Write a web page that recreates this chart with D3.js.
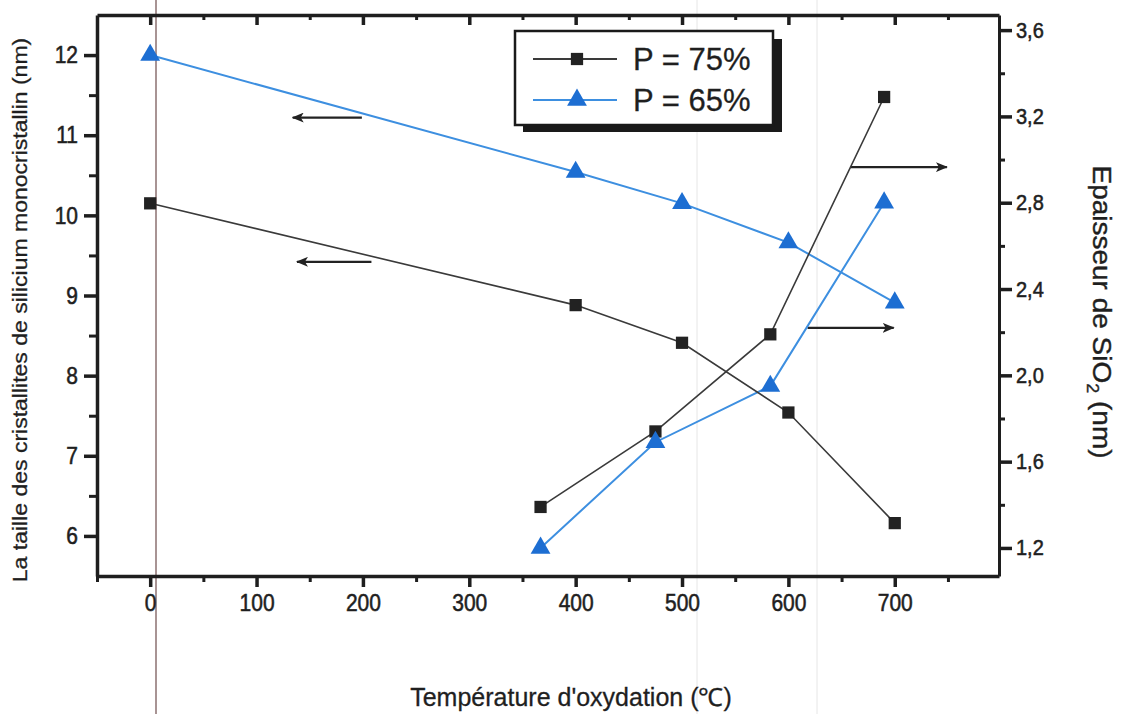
<!DOCTYPE html>
<html><head><meta charset="utf-8">
<script src="https://cdn.jsdelivr.net/npm/d3@7"></script>
<style>
html,body{margin:0;padding:0;background:#fff;}
svg{display:block;}
text{font-family:"Liberation Sans",Arial,Helvetica,sans-serif;fill:#1f1f1f;}
</style></head>
<body>
<svg id="chart" width="1130" height="714"></svg>
<script>
// ---- data ----
const tempLeft = [0, 400, 500, 600, 700];
const size75 = [10.15, 8.88, 8.41, 7.54, 6.16];
const size65 = [12.0, 10.54, 10.15, 9.66, 8.91];
const tempRight = [367, 475, 583, 690];
const oxide75 = [1.39, 1.74, 2.19, 3.29];
const oxide65 = [1.20, 1.69, 1.95, 2.80];
const xTickValues = [0, 100, 200, 300, 400, 500, 600, 700];
const xMinorTicks = [-50, 50, 150, 250, 350, 450, 550, 650, 750];
const leftTickValues = [6, 7, 8, 9, 10, 11, 12];
const leftMinorTicks = [6.5, 7.5, 8.5, 9.5, 10.5, 11.5];
const rightTickValues = [1.2, 1.6, 2.0, 2.4, 2.8, 3.2, 3.6];
const rightMinorTicks = [1.4, 1.8, 2.2, 2.6, 3.0, 3.4];
const seriesNames = ["P = 75%", "P = 65%"];
const xTitle = "Température d'oxydation (\u2103)";
const leftTitle = "La taille des cristallites de silicium monocristallin (nm)";
// annotation arrows (data coordinates)
const arrowsLeft = [{x1: 199, x2: 134, y: 11.22}, {x1: 208, x2: 138, y: 9.42}];
const arrowsRight = [{x1: 658, x2: 749, y: 2.965}, {x1: 618, x2: 699, y: 2.22}];

// ---- layout ----
const L = 97, R = 999, T = 15, B = 576;
const svg = d3.select("#chart");
const x = d3.scaleLinear().domain([-50, 798]).range([L, R]);
const yL = d3.scaleLinear().domain([5.5, 12.5]).range([B, T]);
const yR = d3.scaleLinear().domain([1.07, 3.67]).range([B, T]);

const black = "#1e1e1e", lineBlack = "#3a3a3a", blueLine = "#3d8fe0", blueMark = "#1d6ed2";

// scan artifacts (paper fold lines)
svg.append("line").attr("x1",156).attr("x2",156).attr("y1",0).attr("y2",714)
  .attr("stroke","#a89494").attr("stroke-width",2);
[697, 817].forEach(px => svg.append("line").attr("x1",px).attr("x2",px).attr("y1",0).attr("y2",714)
  .attr("stroke","#e6e6e6").attr("stroke-width",1));

function styleAxis(g, w){
  g.select(".domain").attr("stroke", black).attr("stroke-width", w);
  g.selectAll(".tick line").attr("stroke", black).attr("stroke-width", 3.5);
}
function styleLabels(sel, size, k){
  sel.attr("font-size",size).attr("fill","#1f1f1f").attr("stroke","#1f1f1f").attr("stroke-width",0.5)
    .style("font-family","Liberation Sans, Arial");
  if (k) sel.style("transform-box","fill-box").style("transform-origin","center").style("transform",`scaleY(${k})`);
}
function minor(g){ g.select(".domain").remove(); g.selectAll(".tick line").attr("stroke",black).attr("stroke-width",3); }

// bottom axis
const gB = svg.append("g").attr("transform",`translate(0,${B})`)
  .call(d3.axisBottom(x).tickValues(xTickValues).tickSize(11).tickSizeOuter(0).tickPadding(8));
styleAxis(gB, 3.5);
styleLabels(gB.selectAll(".tick text"), 21, 1.15);
svg.append("g").attr("transform",`translate(0,${B})`)
  .call(d3.axisBottom(x).tickValues(xMinorTicks).tickSize(6).tickSizeOuter(0).tickFormat("")).call(minor);

// top axis (inward ticks)
const gT = svg.append("g").attr("transform",`translate(0,${T})`)
  .call(d3.axisBottom(x).tickValues(xTickValues).tickSize(10).tickSizeOuter(0).tickFormat(""));
styleAxis(gT, 3.5);
svg.append("g").attr("transform",`translate(0,${T})`)
  .call(d3.axisBottom(x).tickValues(xMinorTicks.filter(v=>v>-50)).tickSize(5).tickSizeOuter(0).tickFormat("")).call(minor);

// left axis
const gL = svg.append("g").attr("transform",`translate(${L},0)`)
  .call(d3.axisLeft(yL).tickValues(leftTickValues).tickSize(13).tickSizeOuter(0).tickPadding(6).tickFormat(d3.format("d")));
styleAxis(gL, 3.5);
styleLabels(gL.selectAll(".tick text"), 21, 1.15);
svg.append("g").attr("transform",`translate(${L},0)`)
  .call(d3.axisLeft(yL).tickValues(leftMinorTicks).tickSize(8).tickSizeOuter(0).tickFormat("")).call(minor);

// right axis
const commaFmt = v => d3.format(".1f")(v).replace(".", ",");
const gR = svg.append("g").attr("transform",`translate(${R},0)`)
  .call(d3.axisRight(yR).tickValues(rightTickValues).tickSize(13).tickSizeOuter(0).tickPadding(4).tickFormat(commaFmt));
styleAxis(gR, 3);
styleLabels(gR.selectAll(".tick text"), 20, 1.08);
svg.append("g").attr("transform",`translate(${R},0)`)
  .call(d3.axisRight(yR).tickValues(rightMinorTicks).tickSize(6).tickSizeOuter(0).tickFormat("")).call(minor);

// axis titles
svg.append("text").attr("x",571).attr("y",706).attr("text-anchor","middle")
  .attr("font-size",25).attr("stroke","#1f1f1f").attr("stroke-width",0.3).text(xTitle);
svg.append("text").attr("transform","translate(27,310) rotate(-90) scale(1.15,1)")
  .attr("text-anchor","middle").attr("font-size",20).attr("stroke","#1f1f1f").attr("stroke-width",0.3).text(leftTitle);
const rt = svg.append("text").attr("transform","translate(1093,312) rotate(90) scale(1.12,1)")
  .attr("text-anchor","middle").attr("font-size",25).attr("stroke","#1f1f1f").attr("stroke-width",0.4);
rt.append("tspan").text("Epaisseur de SiO");
rt.append("tspan").attr("font-size",16).attr("dy",6).text("2");
rt.append("tspan").attr("dy",-6).text(" (nm)");

// arrow marker
const defs = svg.append("defs");
defs.append("marker").attr("id","ah").attr("viewBox","0 0 12 10").attr("refX",11).attr("refY",5)
  .attr("markerWidth",12).attr("markerHeight",10).attr("markerUnits","userSpaceOnUse").attr("orient","auto")
  .append("path").attr("d","M0,0 L12,5 L0,10 L3,5 Z").attr("fill","#222");

svg.selectAll(".arrL").data(arrowsLeft).join("line")
  .attr("x1",d=>x(d.x1)).attr("x2",d=>x(d.x2)).attr("y1",d=>yL(d.y)).attr("y2",d=>yL(d.y))
  .attr("stroke","#222").attr("stroke-width",2.4).attr("marker-end","url(#ah)");
svg.selectAll(".arrR").data(arrowsRight).join("line")
  .attr("x1",d=>x(d.x1)).attr("x2",d=>x(d.x2)).attr("y1",d=>yR(d.y)).attr("y2",d=>yR(d.y))
  .attr("stroke","#222").attr("stroke-width",2.4).attr("marker-end","url(#ah)");

// series
const lineL = d3.line().x(d=>x(d[0])).y(d=>yL(d[1]));
const lineR = d3.line().x(d=>x(d[0])).y(d=>yR(d[1]));
const s75L = tempLeft.map((t,i)=>[t,size75[i]]);
const s65L = tempLeft.map((t,i)=>[t,size65[i]]);
const s75R = tempRight.map((t,i)=>[t,oxide75[i]]);
const s65R = tempRight.map((t,i)=>[t,oxide65[i]]);

svg.append("path").attr("d",lineL(s65L)).attr("fill","none").attr("stroke",blueLine).attr("stroke-width",2);
svg.append("path").attr("d",lineR(s65R)).attr("fill","none").attr("stroke",blueLine).attr("stroke-width",2);
svg.append("path").attr("d",lineL(s75L)).attr("fill","none").attr("stroke",lineBlack).attr("stroke-width",1.6);
svg.append("path").attr("d",lineR(s75R)).attr("fill","none").attr("stroke",lineBlack).attr("stroke-width",1.6);

const sq = d3.symbol().type(d3.symbolSquare).size(150);
const tri = d3.symbol().type(d3.symbolTriangle).size(170);
function markers(data, sx, sy, sym, fill){
  svg.append("g").selectAll("path").data(data).join("path")
    .attr("transform",d=>`translate(${sx(d[0])},${sy(d[1])})`).attr("d",sym).attr("fill",fill);
}
markers(s75L, x, yL, sq, "#222");
markers(s75R, x, yR, sq, "#222");
markers(s65L, x, yL, tri, blueMark);
markers(s65R, x, yR, tri, blueMark);

// legend
const lg = svg.append("g");
lg.append("rect").attr("x",523).attr("y",39).attr("width",259).attr("height",93).attr("fill","#1a1a1a");
lg.append("rect").attr("x",515).attr("y",31).attr("width",258).attr("height",94)
  .attr("fill","#fff").attr("stroke","#1a1a1a").attr("stroke-width",2.5);
const legendRows = [
  {name: seriesNames[0], y: 59, stroke: lineBlack, fill: "#222", sym: sq, w: 1.8},
  {name: seriesNames[1], y: 100, stroke: blueLine, fill: blueMark, sym: tri, w: 2.2}
];
legendRows.forEach(r => {
  lg.append("line").attr("x1",533).attr("x2",617).attr("y1",r.y).attr("y2",r.y).attr("stroke",r.stroke).attr("stroke-width",r.w);
  lg.append("path").attr("transform",`translate(577,${r.y})`).attr("d",r.sym).attr("fill",r.fill);
  lg.append("text").attr("x",633).attr("y",r.y+11).attr("font-size",31).attr("stroke","#1f1f1f").attr("stroke-width",0.3).text(r.name);
});
</script>
</body></html>
